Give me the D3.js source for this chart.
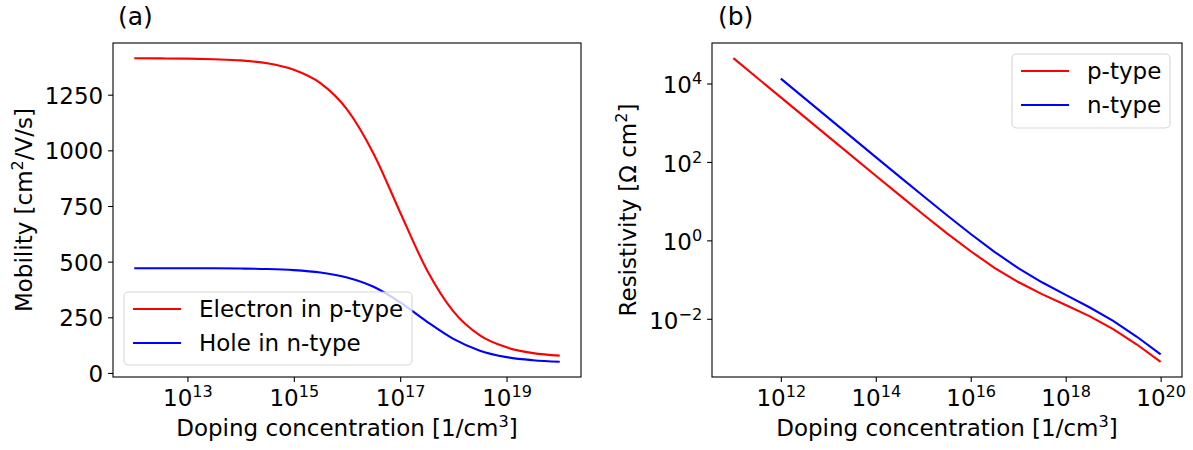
<!DOCTYPE html>
<html>
<head>
<meta charset="utf-8">
<script src="https://cdn.jsdelivr.net/npm/d3@7"></script>
<style>
  body { margin: 0; background: #ffffff; }
  svg text { font-family: "DejaVu Sans", sans-serif; fill: #000; }
</style>
</head>
<body>
<div id="chart"></div>
<script>
// Panel (a): mobility vs doping (half-decade steps)
var dopingA = [1e12, 3.16e12, 1e13, 3.16e13, 1e14, 3.16e14, 1e15, 3.16e15, 1e16,
               3.16e16, 1e17, 3.16e17, 1e18, 3.16e18, 1e19, 3.16e19, 1e20];
var electronMobility = [1414, 1413, 1412, 1409, 1404, 1391, 1362, 1302, 1184,
                        985, 721, 464, 277, 169, 115, 89, 78];
var holeMobility = [470, 470, 470, 470, 469, 467, 462, 451, 429,
                    387, 317, 231, 153, 100, 71, 57, 50];

// Panel (b): resistivity vs doping
var dopingP = [1e11, 1e12, 1e13, 1e14, 3.16e14, 1e15, 3.16e15, 1e16, 3.16e16,
               1e17, 3.16e17, 1e18, 3.16e18, 1e19, 3.16e19, 1e20];
var resistivityP = [44200, 4420, 442, 44.5, 14.2, 4.58, 1.51, 0.527, 0.200,
                    0.0865, 0.0426, 0.0225, 0.0117, 0.00543, 0.00221, 0.00080];
var dopingN = [1e12, 1e13, 1e14, 3.16e14, 1e15, 3.16e15, 1e16, 3.16e16,
               1e17, 3.16e17, 1e18, 3.16e18, 1e19, 3.16e19, 1e20];
var resistivityN = [13300, 1330, 133, 42.3, 13.5, 4.38, 1.45, 0.511, 0.196,
                    0.0853, 0.0408, 0.0197, 0.00881, 0.00348, 0.00124];

// tick labels
var ticksAx = [1e13, 1e15, 1e17, 1e19];
var ticksAy = [0, 250, 500, 750, 1000, 1250];
var ticksBx = [1e12, 1e14, 1e16, 1e18, 1e20];
var ticksBy = [1e-2, 1e0, 1e2, 1e4];

var legendA = ["Electron in p-type", "Hole in n-type"];
var legendB = ["p-type", "n-type"];
var colors = ["#ff0000", "#0000ff"];

var fontSize = 23,
    supShift = 9.3,
    tickLen = 4.9,
    lineW = 2.1;

var svg = d3.select("#chart").append("svg")
    .attr("width", 1193)
    .attr("height", 450);

// matplotlib style 5% padding of the data range
function padded(lo, hi) {
  var m = (hi - lo) * 0.05;
  return [lo - m, hi + m];
}
function logPadded(vals) {
  var ext = d3.extent(vals, function(v) { return Math.log10(v); });
  var p = padded(ext[0], ext[1]);
  return [Math.pow(10, p[0]), Math.pow(10, p[1])];
}

function styleAxis(g) {
  g.select(".domain").remove();
  g.selectAll(".tick line").attr("stroke", "#000").attr("stroke-width", 1.1);
  g.selectAll(".tick text")
    .attr("fill", "#000")
    .attr("font-size", fontSize)
    .attr("font-family", "DejaVu Sans");
}

// writes 10^n labels with a raised exponent
function powerLabel(sel, firstDy) {
  sel.each(function(d) {
    var e = Math.round(Math.log10(d));
    var t = d3.select(this).text("").attr("dy", null);
    t.append("tspan").attr("dy", firstDy).text("10");
    t.append("tspan")
      .attr("dy", -supShift)
      .attr("font-size", fontSize * 0.7)
      .text(String(e).replace("-", "\u2212"));
  });
}

// text with a superscript in the middle: [before, sup, after]
function supText(t, parts) {
  t.append("tspan").text(parts[0]);
  t.append("tspan").attr("dy", -supShift).attr("font-size", fontSize * 0.7).text(parts[1]);
  t.append("tspan").attr("dy", supShift).text(parts[2]);
}

function drawLegend(box, labels) {
  var lg = svg.append("g");
  lg.append("rect")
    .attr("x", box.x).attr("y", box.y)
    .attr("width", box.w).attr("height", box.h)
    .attr("rx", 4.4)
    .attr("fill", "#ffffff").attr("fill-opacity", 0.8)
    .attr("stroke", "#cccccc").attr("stroke-opacity", 0.8)
    .attr("stroke-width", 1.1);
  labels.forEach(function(lab, i) {
    var ry = box.y + 17 + i * 34;
    lg.append("line")
      .attr("x1", box.x + 9).attr("x2", box.x + 57)
      .attr("y1", ry).attr("y2", ry)
      .attr("stroke", colors[i]).attr("stroke-width", lineW);
    lg.append("text")
      .attr("x", box.x + 75).attr("y", ry + 8)
      .attr("font-size", fontSize)
      .text(lab);
  });
}

function drawFrame(b) {
  svg.append("rect")
    .attr("x", b.left).attr("y", b.top)
    .attr("width", b.right - b.left).attr("height", b.bottom - b.top)
    .attr("fill", "none").attr("stroke", "#000").attr("stroke-width", 1.1);
}

////////////////////////////////////////////////////
//////// Panel (a) mobility
////////////////////////////////////////////////////
var boxA = {left: 113, right: 581, top: 43, bottom: 377};

var xA = d3.scaleLog().domain(logPadded(dopingA)).range([boxA.left, boxA.right]);
var yExtA = d3.extent(electronMobility.concat(holeMobility));
var yA = d3.scaleLinear().domain(padded(yExtA[0], yExtA[1])).range([boxA.bottom, boxA.top]);

var lineA = d3.line()
    .x(function(d) { return xA(d[0]); })
    .y(function(d) { return yA(d[1]); })
    .curve(d3.curveMonotoneX);

[electronMobility, holeMobility].forEach(function(series, i) {
  svg.append("path")
    .datum(dopingA.map(function(n, j) { return [n, series[j]]; }))
    .attr("fill", "none")
    .attr("stroke", colors[i])
    .attr("stroke-width", lineW)
    .attr("d", lineA);
});

drawFrame(boxA);

var gAx = svg.append("g")
    .attr("transform", "translate(0," + boxA.bottom + ")")
    .call(d3.axisBottom(xA).tickValues(ticksAx).tickSize(tickLen));
styleAxis(gAx);
gAx.selectAll(".tick text").attr("y", 29).call(powerLabel, 0);

var gAy = svg.append("g")
    .attr("transform", "translate(" + boxA.left + ",0)")
    .call(d3.axisLeft(yA).tickValues(ticksAy).tickFormat(d3.format("d"))
      .tickSize(tickLen).tickPadding(4.9));
styleAxis(gAy);
gAy.selectAll(".tick text").attr("dy", 8.5);

// labels
svg.append("text")
    .attr("x", 118).attr("y", 25)
    .attr("font-size", 25)
    .text("(a)");

supText(svg.append("text")
    .attr("x", (boxA.left + boxA.right) / 2).attr("y", 436)
    .attr("text-anchor", "middle")
    .attr("font-size", fontSize), ["Doping concentration [1/cm", "3", "]"]);

supText(svg.append("text")
    .attr("transform", "translate(32," + (boxA.top + boxA.bottom) / 2 + ") rotate(-90)")
    .attr("text-anchor", "middle")
    .attr("font-size", fontSize), ["Mobility [cm", "2", "/V/s]"]);

drawLegend({x: 124, y: 292, w: 288, h: 73}, legendA);

////////////////////////////////////////////////////
//////// Panel (b) resistivity
////////////////////////////////////////////////////
var boxB = {left: 712, right: 1182, top: 43, bottom: 377};

var xB = d3.scaleLog().domain(logPadded(dopingP.concat(dopingN))).range([boxB.left, boxB.right]);
var yB = d3.scaleLog().domain(logPadded(resistivityP.concat(resistivityN))).range([boxB.bottom, boxB.top]);

var lineB = d3.line()
    .x(function(d) { return xB(d[0]); })
    .y(function(d) { return yB(d[1]); });

[[dopingP, resistivityP], [dopingN, resistivityN]].forEach(function(s, i) {
  svg.append("path")
    .datum(s[0].map(function(n, j) { return [n, s[1][j]]; }))
    .attr("fill", "none")
    .attr("stroke", colors[i])
    .attr("stroke-width", lineW)
    .attr("d", lineB);
});

drawFrame(boxB);

var gBx = svg.append("g")
    .attr("transform", "translate(0," + boxB.bottom + ")")
    .call(d3.axisBottom(xB).tickValues(ticksBx).tickSize(tickLen));
styleAxis(gBx);
gBx.selectAll(".tick text").attr("y", 29).call(powerLabel, 0);

var gBy = svg.append("g")
    .attr("transform", "translate(" + boxB.left + ",0)")
    .call(d3.axisLeft(yB).tickValues(ticksBy).tickSize(tickLen).tickPadding(4.9));
styleAxis(gBy);
gBy.selectAll(".tick text").call(powerLabel, 9.5);

svg.append("text")
    .attr("x", 718).attr("y", 25)
    .attr("font-size", 25)
    .text("(b)");

supText(svg.append("text")
    .attr("x", (boxB.left + boxB.right) / 2).attr("y", 436)
    .attr("text-anchor", "middle")
    .attr("font-size", fontSize), ["Doping concentration [1/cm", "3", "]"]);

supText(svg.append("text")
    .attr("transform", "translate(636," + (boxB.top + boxB.bottom) / 2 + ") rotate(-90)")
    .attr("text-anchor", "middle")
    .attr("font-size", fontSize), ["Resistivity [\u03A9 cm", "2", "]"]);

drawLegend({x: 1012, y: 54, w: 158, h: 74}, legendB);
</script>
</body>
</html>
